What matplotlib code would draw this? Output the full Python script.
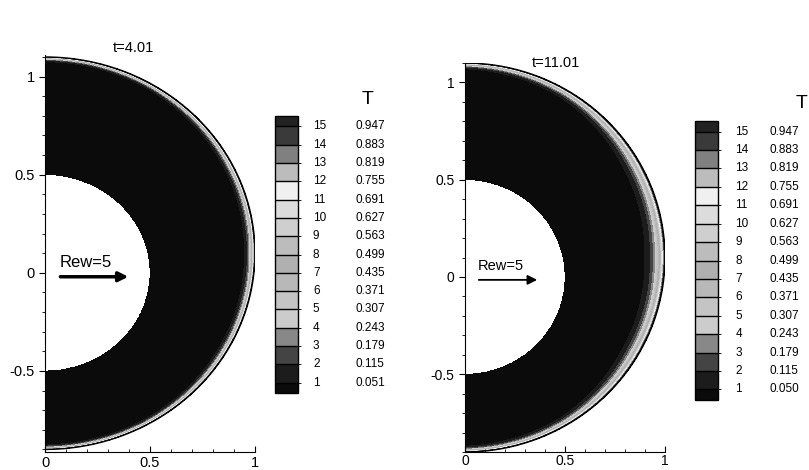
import numpy as np
import matplotlib.pyplot as plt
from matplotlib.colors import ListedColormap, BoundaryNorm

plt.rcParams['font.family'] = ['Liberation Sans', 'DejaVu Sans']

# legend levels
level_ids = list(range(1, 16))
levels_left = [0.051, 0.115, 0.179, 0.243, 0.307, 0.371, 0.435, 0.499,
               0.563, 0.627, 0.691, 0.755, 0.819, 0.883, 0.947]
levels_right = [0.050, 0.115, 0.179, 0.243, 0.307, 0.371, 0.435, 0.499,
                0.563, 0.627, 0.691, 0.755, 0.819, 0.883, 0.947]

# grey bands between levels (bottom -> top), plus under/over
band_colors = ['#1c1c1c', '#444444', '#888888', '#cccccc', '#c4c4c4', '#b8b8b8',
               '#b0b0b0', '#bcbcbc', '#cfcfcf', '#dcdcdc', '#f0f0f0', '#bcbcbc',
               '#808080', '#3a3a3a']
under_color = '#0b0b0b'
over_color = '#222222'

# thermal layer thickness near the outer wall
theta_deg = [-90, -60, -30, 0, 30, 60, 90]
delta_left = [0.008, 0.010, 0.014, 0.017, 0.014, 0.010, 0.008]
delta_right = [0.010, 0.016, 0.028, 0.034, 0.028, 0.016, 0.010]

times = ['t=4.01', 't=11.01']

# geometry: inner cylinder at origin, outer one shifted up
r_in = 0.5
r_out = 1.0
yc_out = 0.1

x = np.linspace(0, 1.0, 700)
y = np.linspace(-0.95, 1.15, 1400)
X, Y = np.meshgrid(x, y)
rr = np.sqrt(X**2 + (Y - yc_out)**2)
th = np.degrees(np.arctan2(Y - yc_out, X))
inside = (rr <= r_out) & (np.sqrt(X**2 + Y**2) >= r_in)
d = r_out - rr

cmap = ListedColormap(band_colors)
cmap.set_under(under_color)
cmap.set_over(over_color)

fig = plt.figure(figsize=(8.09, 4.70), dpi=100)

W, H = 809, 470
def box(x0, y0, x1, y1):
    return [x0 / W, 1 - y1 / H, (x1 - x0) / W, (y1 - y0) / H]

setups = [
    dict(ax=box(45, 55, 255, 452), ylim=(-0.913, 1.11), cax=box(275, 116, 298, 393),
         levels=levels_left, delta=delta_left, title=(133, 48), T=(362, 100),
         num_x=1.65, val_x=3.5, arrow=((0.06, -0.02), (0.41, -0.02)), alw=2.5,
         rew_size=12, tick_size=10.5, pad=3),
    dict(ax=box(465, 63, 665, 452), ylim=(-0.90, 1.10), cax=box(695, 121, 718, 400),
         levels=levels_right, delta=delta_right, title=(556, 63), T=(796, 104),
         num_x=1.75, val_x=3.25, arrow=((0.055, -0.015), (0.375, -0.015)), alw=1.3,
         rew_size=10.5, tick_size=10, pad=1.5),
]

for s, tt in zip(setups, times):
    ax = fig.add_axes(s['ax'])
    lev = s['levels']
    norm = BoundaryNorm(lev, cmap.N)
    dl = np.interp(th, theta_deg, s['delta'])
    T = np.exp(-np.clip(d, 0, None) / dl)
    T = np.ma.masked_where(~inside, T)
    cf = ax.contourf(X, Y, T, levels=lev, cmap=cmap, norm=norm, extend='both')

    # outer wall outline
    phi = np.linspace(-np.pi / 2, np.pi / 2, 400)
    ax.plot(r_out * np.cos(phi), yc_out + r_out * np.sin(phi), color='black', lw=1.0)

    ax.set_xlim(0, 1)
    ax.set_ylim(*s['ylim'])
    ax.spines['top'].set_visible(False)
    ax.spines['right'].set_visible(False)
    ax.set_xticks([0, 0.5, 1], labels=['0', '0.5', '1'])
    ax.set_yticks([-0.5, 0, 0.5, 1], labels=['-0.5', '0', '0.5', '1'])
    ax.set_xticks(np.arange(0, 1.01, 0.1), minor=True)
    ax.set_yticks(np.arange(-0.9, 1.11, 0.1), minor=True)
    ax.tick_params(axis='x', which='both', direction='in', labelsize=s['tick_size'],
                   pad=s['pad'])
    ax.tick_params(axis='y', which='both', direction='out', labelsize=s['tick_size'])
    ax.tick_params(which='major', length=4)
    ax.tick_params(which='minor', length=2.5)

    (x0, y0), (x1, y1) = s['arrow']
    ax.annotate('', xy=(x1, y1), xytext=(x0, y0),
                arrowprops=dict(arrowstyle='-|>', color='black', lw=s['alw'],
                                mutation_scale=14))
    ax.text(x0 + 0.01, y0 + 0.035, 'Rew=5', fontsize=s['rew_size'], va='bottom')

    fig.text(s['title'][0] / W, 1 - s['title'][1] / H, tt, fontsize=10.5,
             ha='center', va='center')

    cax = fig.add_axes(s['cax'])
    cb = fig.colorbar(cf, cax=cax, extend='both', extendrect=True,
                      extendfrac=0.041, drawedges=True)
    cb.outline.set_linewidth(1.0)
    cb.dividers.set_linewidth(1.0)
    cb.dividers.set_color('black')
    cax.set_yticks([])
    tr = cax.get_yaxis_transform()
    for k, v in zip(level_ids, lev):
        cax.text(s['num_x'], v, str(k), transform=tr, fontsize=8.5, va='center', ha='left')
        cax.text(s['val_x'], v, '%.3f' % v, transform=tr, fontsize=8.5, va='center', ha='left')
    fig.text(s['T'][0] / W, 1 - s['T'][1] / H, 'T', fontsize=14, ha='left', va='center')

fig.savefig('out.png', dpi=100)
